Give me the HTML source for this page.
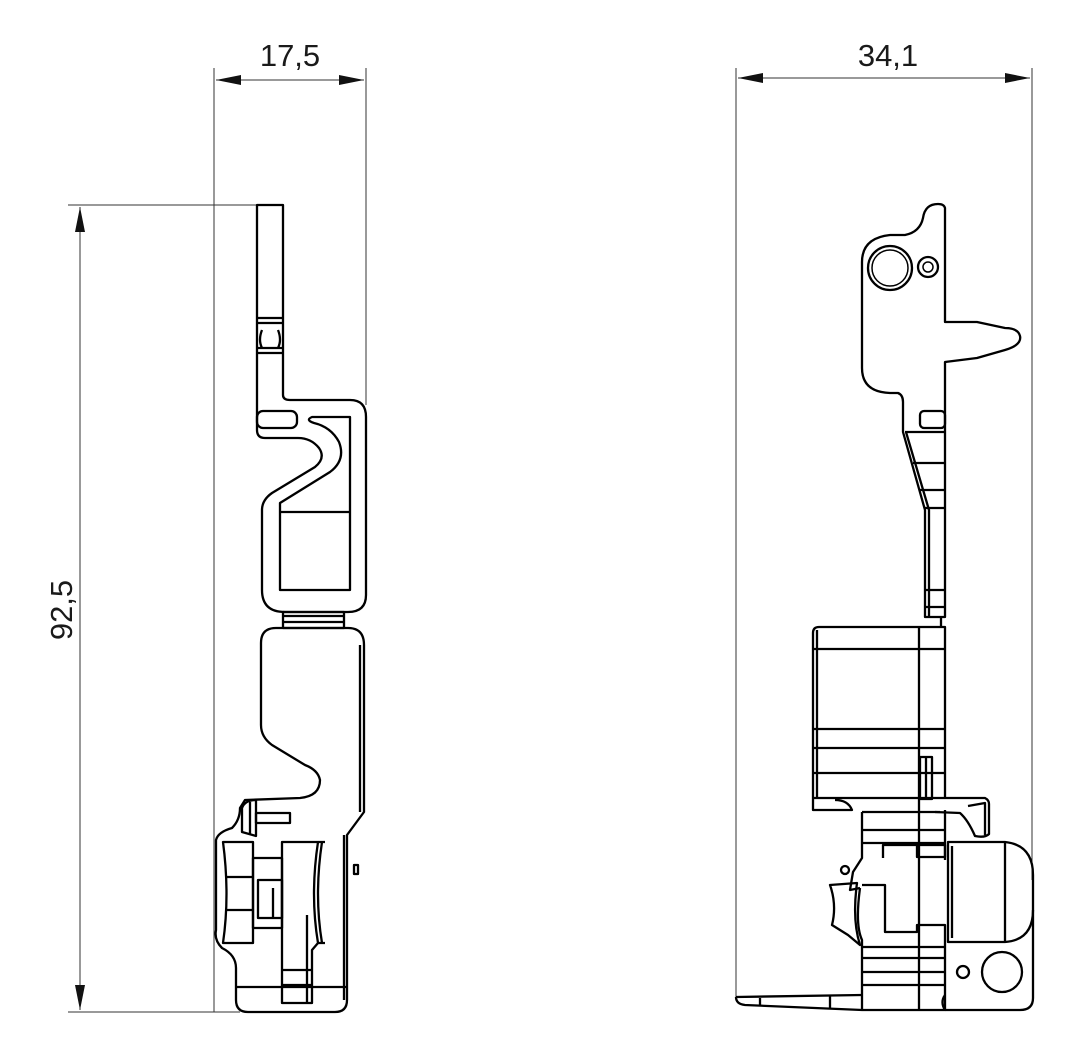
<!DOCTYPE html>
<html><head><meta charset="utf-8"><style>
html,body{margin:0;padding:0;background:#fff;}
svg{display:block;}
text{font-family:"Liberation Sans",sans-serif;font-size:31px;fill:#1a1a1a;}
</style></head><body>
<svg width="1075" height="1054" viewBox="0 0 1075 1054" xmlns="http://www.w3.org/2000/svg">
<defs>
<marker id="a" viewBox="0 0 20 8" refX="20" refY="4" markerWidth="32" markerHeight="10" markerUnits="userSpaceOnUse" orient="auto-start-reverse"><path d="M0,0 L20,4 L0,8 Z" fill="#111"/></marker>
</defs>
<g stroke="#333" stroke-width="1" fill="none">
<line x1="214" y1="68" x2="214" y2="1012"/>
<line x1="366" y1="68" x2="366" y2="405"/>
<line x1="216" y1="80" x2="364" y2="80" marker-start="url(#a)" marker-end="url(#a)"/>
<line x1="68" y1="205" x2="262" y2="205"/>
<line x1="68" y1="1012" x2="240" y2="1012"/>
<line x1="80" y1="207" x2="80" y2="1010" marker-start="url(#a)" marker-end="url(#a)"/>
<line x1="736" y1="68" x2="736" y2="1000"/>
<line x1="1032" y1="68" x2="1032" y2="880"/>
<line x1="738" y1="78" x2="1030" y2="78" marker-start="url(#a)" marker-end="url(#a)"/>
</g>
<text x="290" y="66" text-anchor="middle">17,5</text>
<text x="888" y="66" text-anchor="middle">34,1</text>
<text x="0" y="0" text-anchor="middle" transform="translate(72,610) rotate(-90)">92,5</text>

<g stroke="#000" stroke-width="2.3" fill="none" stroke-linejoin="round">
<!-- LEFT PART upper -->
<path d="M257,205 L283,205 L283,395 Q283,400 290,400 L350,400 Q366,400 366,417 L366,595 Q366,612 348,612 L285,612 Q262,612 262,590 L262,510 Q262,500 272,493 L315,467 Q326,458 319,448 Q311,438 298,438 L265,438 Q257,438 257,430 Z"/>
<path d="M312,417 L350,417 L350,590 L280,590 L280,503 L330,472 Q346,460 339,442 Q331,427 314,423 Q305,420 312,417 Z"/>
<line x1="280" y1="512" x2="350" y2="512"/>
<rect x="257" y="411" width="40" height="17" rx="6"/>
<line x1="257" y1="318" x2="283" y2="318"/><line x1="257" y1="323" x2="283" y2="323"/>
<line x1="257" y1="348" x2="283" y2="348"/><line x1="257" y1="353" x2="283" y2="353"/>
<path d="M262,330 Q258,340 262,348 M278,330 Q282,340 278,348"/>
<!-- neck -->
<rect x="283" y="612" width="61" height="16"/>
<line x1="283" y1="616" x2="344" y2="616"/><line x1="283" y1="622" x2="344" y2="622"/>
<!-- lower body -->
<path d="M276,628 L348,628 Q364,628 364,645 L364,812 L347,835 L347,1000 Q347,1012 335,1012 L248,1012 Q236,1012 236,1000 L236,968 Q236,955 222,948 Q214,940 216,930 L216,840 Q218,832 232,828 Q240,820 240,808 L245,800 L300,798 Q320,796 320,780 Q318,770 305,765 L272,745 Q261,737 261,725 L261,643 Q261,628 276,628 Z"/>
<line x1="360" y1="645" x2="360" y2="812"/>
<line x1="344" y1="835" x2="344" y2="1000"/>
<line x1="236" y1="987" x2="347" y2="987"/>
<path d="M242,832 L242,808 Q245,800 256,800 L256,836 Z"/>
<line x1="250" y1="802" x2="250" y2="834"/>
<rect x="256" y="813" width="34" height="10"/>
<path d="M223,842 L253,842 L253,943 L223,943 Q230,895 223,842 Z"/>
<line x1="225" y1="877" x2="253" y2="877"/><line x1="225" y1="910" x2="253" y2="910"/>
<rect x="253" y="858" width="29" height="70"/>
<rect x="258" y="880" width="24" height="38"/>
<line x1="273" y1="888" x2="273" y2="918"/>
<path d="M282,842 L318,842 Q310,895 318,943 L312,950 L312,1003 L282,1003 Z"/>
<path d="M322,842 Q314,895 322,943"/>
<line x1="282" y1="970" x2="312" y2="970"/><line x1="282" y1="985" x2="312" y2="985"/>
<line x1="307" y1="915" x2="307" y2="1003"/>
<path d="M318,842 L325,842 M318,943 L325,943"/>
<rect x="354" y="865" width="4" height="9"/>

<!-- RIGHT PART head -->
<path d="M945,617 L945,362 L977,358 L1005,350 Q1022,345 1020,336 Q1018,328 1005,328 L977,322 L945,322 L945,208 Q944,204 938,204 Q925,204 923,218 Q920,232 905,235 L890,235 Q862,238 862,262 L862,368 Q862,392 890,393 L898,393 Q903,395 903,402 L903,432 L925,510 L925,617 Z"/>
<path d="M906,432 L929,510 L929,617"/>
<line x1="905" y1="432" x2="945" y2="432"/>
<line x1="913" y1="463" x2="945" y2="463"/>
<line x1="920" y1="490" x2="945" y2="490"/>
<line x1="925" y1="508" x2="945" y2="508"/>
<line x1="925" y1="590" x2="945" y2="590"/>
<line x1="925" y1="607" x2="945" y2="607"/>
<rect x="920" y="411" width="25" height="17" rx="4"/>
<line x1="941" y1="617" x2="941" y2="627"/>
<circle cx="890" cy="268" r="22"/><circle cx="890" cy="268" r="18" stroke-width="1.5"/>
<circle cx="928" cy="267" r="10"/><circle cx="928" cy="267" r="5" stroke-width="1.5"/>
<path d="M813,798 L813,633 Q813,627 819,627 L945,627 L945,798"/>
<line x1="817" y1="630" x2="817" y2="798"/>
<line x1="813" y1="649" x2="945" y2="649"/>
<line x1="813" y1="729" x2="945" y2="729"/>
<line x1="813" y1="748" x2="945" y2="748"/>
<line x1="813" y1="773" x2="945" y2="773"/>
<line x1="919" y1="627" x2="919" y2="798"/>
<rect x="920" y="757" width="12" height="42"/>
<line x1="926" y1="757" x2="926" y2="799"/>
<path d="M813,798 L985,798 Q989,800 989,804 L989,834 Q985,838 975,836 Q968,820 960,813 L935,812 M813,798 L813,810 L852,810 Q848,800 835,800"/>
<path d="M968,806 L985,803 L985,835 M940,812 L862,812"/>
<path d="M862,812 L862,858 L853,872 L850,890 L860,888"/>
<line x1="862" y1="830" x2="945" y2="830"/>
<line x1="862" y1="843" x2="945" y2="843"/>
<rect x="917" y="845" width="28" height="12"/>
<line x1="919" y1="798" x2="919" y2="1010"/>
<line x1="945" y1="810" x2="945" y2="860"/>
<path d="M883,858 L883,845 L917,845"/>
<path d="M948,842 L1005,842 Q1033,845 1033,875 L1033,910 Q1033,940 1005,942 L948,942 Z"/>
<line x1="1005" y1="842" x2="1005" y2="942"/>
<line x1="952" y1="846" x2="952" y2="938"/>
<path d="M1033,910 L1033,998 Q1033,1010 1020,1010 L945,1010"/>
<circle cx="963" cy="972" r="6"/>
<circle cx="1002" cy="972" r="20"/>
<path d="M862,885 L885,885 L885,932 L917,932 L917,925 L945,925 L945,1010"/>
<path d="M860,888 Q855,925 862,940 L862,1010"/>
<line x1="862" y1="947" x2="945" y2="947"/>
<line x1="862" y1="958" x2="945" y2="958"/>
<line x1="862" y1="972" x2="945" y2="972"/>
<line x1="862" y1="985" x2="945" y2="985"/>
<path d="M830,885 L857,883 Q852,920 860,945 L848,935 L832,925 Q837,905 830,885 Z"/>
<circle cx="845" cy="870" r="4"/>
<path d="M736,997 L862,995 M736,997 Q736,1004 745,1005 L862,1010 L945,1010 Q940,1002 945,995"/>
<line x1="760" y1="998" x2="760" y2="1006"/>
<line x1="830" y1="996" x2="830" y2="1009"/>
</g>
</svg>
</body></html>
